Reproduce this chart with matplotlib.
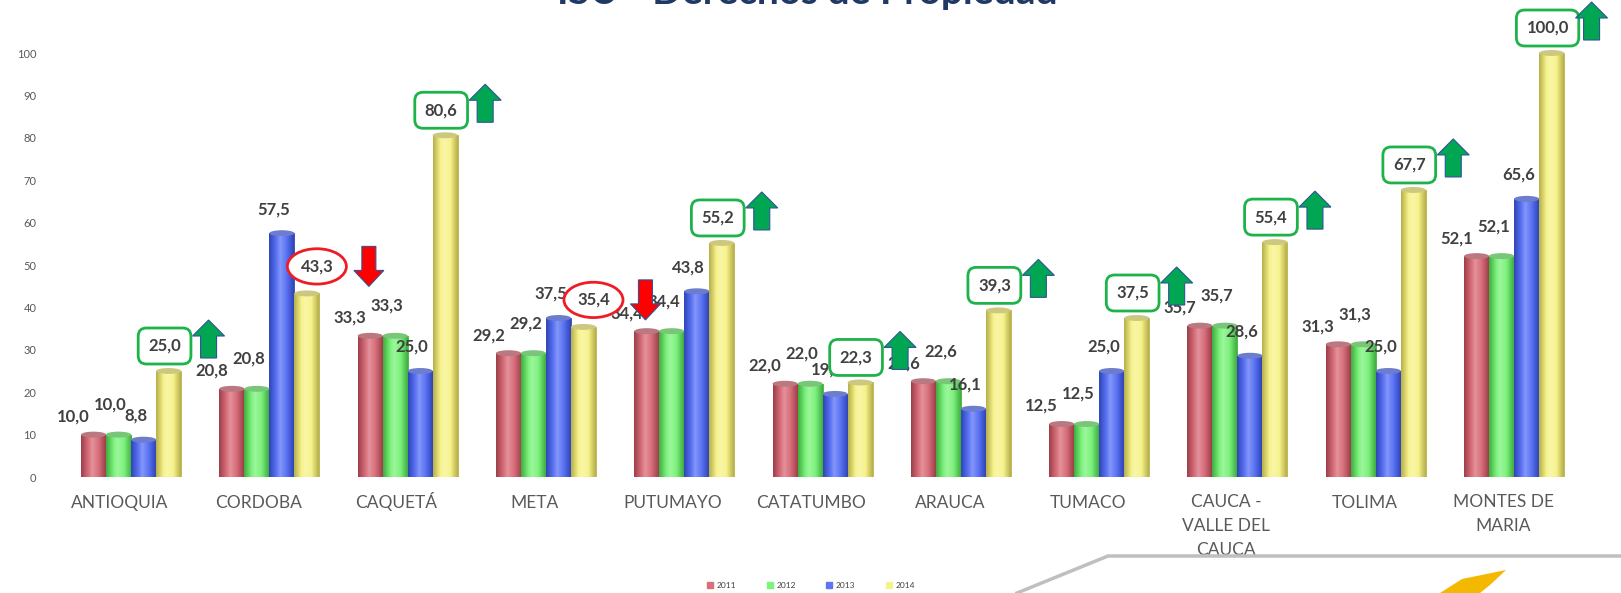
import numpy as np
import matplotlib
matplotlib.use("Agg")
import matplotlib.pyplot as plt
import matplotlib.transforms as mtransforms
from matplotlib.patches import Polygon, Ellipse
from matplotlib.colors import LinearSegmentedColormap, to_rgb
from matplotlib.lines import Line2D

plt.rcParams['font.family'] = ['Lato', 'DejaVu Sans']

# datos
regiones = ['ANTIOQUIA', 'CORDOBA', 'CAQUETÁ', 'META', 'PUTUMAYO', 'CATATUMBO',
            'ARAUCA', 'TUMACO', 'CAUCA -\nVALLE DEL\nCAUCA', 'TOLIMA',
            'MONTES DE\nMARIA']
anios = ['2011', '2012', '2013', '2014']
v2011 = [10.0, 20.8, 33.3, 29.2, 34.4, 22.0, 22.6, 12.5, 35.7, 31.3, 52.1]
v2012 = [10.0, 20.8, 33.3, 29.2, 34.4, 22.0, 22.6, 12.5, 35.7, 31.3, 52.1]
v2013 = [8.8, 57.5, 25.0, 37.5, 43.8, 19.6, 16.1, 25.0, 28.6, 25.0, 65.6]
v2014 = [25.0, 43.3, 80.6, 35.4, 55.2, 22.3, 39.3, 37.5, 55.4, 67.7, 100.0]
series = [v2011, v2012, v2013, v2014]
titulo = 'ISU - Derechos de Propiedad'

colores = ['#d96f7b', '#7df27d', '#5c74f5', '#f7f38c']
oscuros = ['#9c3f4a', '#3fae3f', '#2f45b8', '#b8b04a']

W, H = 1621, 593
fig = plt.figure(figsize=(W / 100, H / 100), dpi=100)

# ejes en pixeles
izq, der, abajo, arriba = 42, 1600, 477, 53
ax = fig.add_axes([izq / W, (H - abajo) / H, (der - izq) / W, (abajo - arriba) / H])
x0px, paso = 120, 138.3

n = len(regiones)
x = np.arange(n)
ancho = 25 / paso
desplaz = 0.08


def aclarar(c, f):
    r = np.array(to_rgb(c))
    return tuple(r + (1 - r) * f)


def fmt(v):
    return f'{v:.1f}'.replace('.', ',')


for k, vals in enumerate(series):
    xs = x + desplaz + (k - 1.5) * ancho
    barras = ax.bar(xs, vals, ancho, color=colores[k], edgecolor=oscuros[k],
                    linewidth=0.6, zorder=2)
    cm = LinearSegmentedColormap.from_list(
        f's{k}', [(0, oscuros[k]), (0.3, colores[k]), (0.45, aclarar(colores[k], 0.25)),
                  (0.7, colores[k]), (1, oscuros[k])])
    grad = np.linspace(0, 1, 64).reshape(1, -1)
    for b in barras:
        im = ax.imshow(grad, extent=[b.get_x(), b.get_x() + b.get_width(), 0, b.get_height()],
                       aspect='auto', cmap=cm, zorder=2.1, interpolation='bilinear')
        im.set_clip_path(b)
        ax.add_patch(Ellipse((b.get_x() + b.get_width() / 2, b.get_height()),
                             b.get_width(), 1.4, facecolor=aclarar(oscuros[k], 0.3),
                             edgecolor='none', zorder=2.2, clip_on=False))

ax.set_xlim((izq - x0px) / paso, (der - x0px) / paso)
ax.set_ylim(0, 100)

# etiquetas de 2011-2013
offs = [(-20, 18), (-8, 30), (-8, 24)]
for k in range(3):
    xs = x + desplaz + (k - 1.5) * ancho
    for xi, v in zip(xs, series[k]):
        ax.annotate(fmt(v), (xi, v), xytext=offs[k], textcoords='offset pixels',
                    ha='center', va='center', fontsize=12, fontweight='bold',
                    color='#404040', zorder=4, annotation_clip=False)

# etiquetas 2014 con recuadro y flechas
xs4 = x + desplaz + 1.5 * ancho
for i, (xi, v) in enumerate(zip(xs4, v2014)):
    sube = v2014[i] >= v2013[i]
    if sube:
        dx, dy = -4, 25
        caja = dict(boxstyle='round,pad=0.6,rounding_size=0.5', facecolor='white',
                    edgecolor='#1db34a', linewidth=2)
        adx, ady = 44, 6
        forma = [(-8, -18), (8, -18), (8, 4), (16, 4), (0, 20), (-16, 4), (-8, 4)]
        relleno = '#00a651'
    else:
        dx, dy = 10, 27
        caja = dict(boxstyle='ellipse,pad=0.27', facecolor='white',
                    edgecolor='#ee1c24', linewidth=2)
        adx, ady = 52, 0
        forma = [(-7, 20), (7, 20), (7, -4), (15, -4), (0, -20), (-15, -4), (-7, -4)]
        relleno = '#ff0000'
    ax.annotate(fmt(v), (xi, v), xytext=(dx, dy), textcoords='offset pixels',
                ha='center', va='center', fontsize=12, fontweight='bold',
                color='#404040', bbox=caja, zorder=5, annotation_clip=False)
    tr = (mtransforms.Affine2D().translate(dx + adx, dy + ady)
          + mtransforms.ScaledTranslation(xi, v, ax.transData))
    ax.add_patch(Polygon(forma, closed=True, facecolor=relleno, edgecolor='#2f5597',
                         linewidth=0.8, transform=tr, zorder=6, clip_on=False))

# nombres de las regiones
ax.set_xticks([])
trx = mtransforms.blended_transform_factory(ax.transData, ax.transAxes)
h_ax = abajo - arriba
for xi, nombre in zip(x, regiones):
    if '\n' in nombre:
        ax.text(xi, -(494 - abajo) / h_ax, nombre, transform=trx, ha='center', va='top',
                fontsize=12.5, color='#595959', linespacing=1.6)
    else:
        ax.text(xi, -(508 - abajo) / h_ax, nombre, transform=trx, ha='center',
                va='baseline', fontsize=12.5, color='#595959')

ax.set_yticks(np.arange(0, 101, 10))
ax.tick_params(axis='y', length=0, pad=4, labelsize=8, labelcolor='#595959')
for s in ax.spines.values():
    s.set_visible(False)
ax.set_facecolor('none')

# leyenda
handles = [Line2D([], [], marker='s', linestyle='', markersize=5,
                  markerfacecolor=c, markeredgecolor=c) for c in colores]
fig.legend(handles, anios, loc='center', bbox_to_anchor=(811 / W, 1 - 585 / H),
           ncol=4, frameon=False, fontsize=6, handlelength=0.8, handletextpad=0.4,
           columnspacing=3.6, labelcolor='#404040')

# titulo (cortado arriba como en la diapositiva)
fig.text(807 / W, 1 - 4 / H, titulo, ha='center', va='baseline', fontsize=28,
         fontweight='bold', color='#1f3864')

# adorno de la diapositiva
fig.add_artist(Line2D([1017 / W, 1108 / W, 1.0], [0, 37 / H, 37 / H],
                      color='#bfbfbf', linewidth=2.5, transform=fig.transFigure))
fig.add_artist(Polygon([(1440 / W, 0), (1462 / W, 14 / H), (1506 / W, 23 / H),
                        (1490 / W, 8 / H), (1480 / W, 0)], closed=True,
                       facecolor='#f5b800', edgecolor='none', transform=fig.transFigure))

fig.savefig('out.png', dpi=100)
